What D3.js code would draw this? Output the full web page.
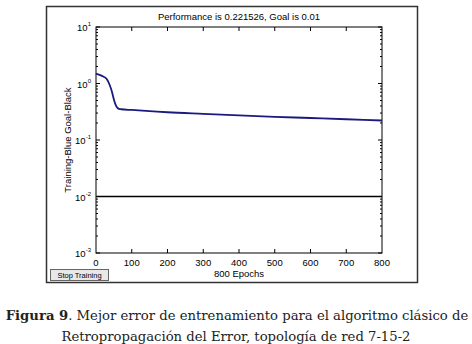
<!DOCTYPE html>
<html>
<head>
<meta charset="utf-8">
<script src="https://cdn.jsdelivr.net/npm/d3@7"></script>
<style>
  body { margin: 0; background: #fff; }
  svg { display: block; }
</style>
</head>
<body>
<div id="chart"></div>
<script>
"use strict";
let width = 472;
let height = 344;

// training curve (epochs, performance)
let epochs = [0, 10, 20, 30, 38, 45, 50, 55, 60, 65, 70, 100, 150, 200, 300, 400, 500, 600, 700, 800];
let perf = [1.5, 1.42, 1.33, 1.2, 0.95, 0.7, 0.52, 0.42, 0.37, 0.355, 0.35, 0.34, 0.325, 0.31, 0.29, 0.272, 0.257, 0.245, 0.233, 0.2215];
let goal = 0.01;
let xTicks = [0, 100, 200, 300, 400, 500, 600, 700, 800];
let yTicks = [1e-3, 1e-2, 1e-1, 1e0, 1e1];
let yExps = [-3, -2, -1, 0, 1];

let plot = {left: 96, right: 382, top: 27, bottom: 253};

let svg = d3.select("#chart").append("svg")
    .attr("width", width)
    .attr("height", height);

// outer window frame
svg.append("rect")
    .attr("x", 46.5).attr("y", 6.5)
    .attr("width", 371).attr("height", 276)
    .attr("fill", "#fff")
    .attr("stroke", "#333")
    .attr("stroke-width", 1.5);

let xScale = d3.scaleLinear()
    .domain([0, 800])
    .range([plot.left, plot.right]);

let yScale = d3.scaleLog()
    .domain([1e-3, 1e1])
    .range([plot.bottom, plot.top]);

// plot box
svg.append("rect")
    .attr("x", plot.left).attr("y", plot.top)
    .attr("width", plot.right - plot.left)
    .attr("height", plot.bottom - plot.top)
    .attr("fill", "none")
    .attr("stroke", "#000")
    .attr("stroke-width", 1);

// x ticks (bottom and top)
svg.append("g").selectAll("line")
    .data(xTicks.slice(1, -1))
    .enter().append("line")
    .attr("x1", d => xScale(d)).attr("x2", d => xScale(d))
    .attr("y1", plot.bottom).attr("y2", plot.bottom - 4)
    .attr("stroke", "#000");
svg.append("g").selectAll("line")
    .data(xTicks.slice(1, -1))
    .enter().append("line")
    .attr("x1", d => xScale(d)).attr("x2", d => xScale(d))
    .attr("y1", plot.top).attr("y2", plot.top + 4)
    .attr("stroke", "#000");

svg.append("g").selectAll("text")
    .data(xTicks)
    .enter().append("text")
    .attr("x", d => xScale(d))
    .attr("y", plot.bottom + 13)
    .attr("text-anchor", "middle")
    .style("font-family", "Liberation Sans, Arial, sans-serif")
    .style("font-size", "9.5px")
    .text(d => d);

// y minor + major ticks (log)
let minor = [];
yExps.slice(0, -1).forEach(function(e) {
    for (let m = 1; m < 10; m++) minor.push(m * Math.pow(10, e));
});
minor.push(10);
[plot.left, plot.right].forEach(function(x0, side) {
    let dir = side === 0 ? 1 : -1;
    svg.append("g").selectAll("line")
        .data(minor)
        .enter().append("line")
        .attr("x1", x0).attr("x2", d => x0 + dir * (yTicks.indexOf(d) >= 0 ? 4 : 2))
        .attr("y1", d => yScale(d)).attr("y2", d => yScale(d))
        .attr("stroke", "#000");
});

let yLab = svg.append("g").selectAll("text")
    .data(yExps)
    .enter().append("text")
    .attr("x", plot.left - 5)
    .attr("y", e => yScale(Math.pow(10, e)) + 4)
    .attr("text-anchor", "end")
    .style("font-family", "Liberation Sans, Arial, sans-serif")
    .style("font-size", "9.5px");
yLab.append("tspan").text("10");
yLab.append("tspan").attr("dy", -5).style("font-size", "6px").text(e => e);

// goal line
svg.append("line")
    .attr("x1", xScale(0)).attr("x2", xScale(800))
    .attr("y1", yScale(goal)).attr("y2", yScale(goal))
    .attr("stroke", "#000")
    .attr("stroke-width", 1.5);

// training curve
let line = d3.line()
    .x((d, i) => xScale(epochs[i]))
    .y(d => yScale(d))
    .curve(d3.curveMonotoneX);
svg.append("path")
    .datum(perf)
    .attr("d", line)
    .attr("fill", "none")
    .attr("stroke", "#1a1a80")
    .attr("stroke-width", 1.8);

// title and axis labels
svg.append("text")
    .attr("x", (plot.left + plot.right) / 2)
    .attr("y", 20)
    .attr("text-anchor", "middle")
    .style("font-family", "Liberation Sans, Arial, sans-serif")
    .style("font-size", "9.5px")
    .text("Performance is 0.221526, Goal is 0.01");

svg.append("text")
    .attr("x", (plot.left + plot.right) / 2)
    .attr("y", 277)
    .attr("text-anchor", "middle")
    .style("font-family", "Liberation Sans, Arial, sans-serif")
    .style("font-size", "9.5px")
    .text("800 Epochs");

svg.append("text")
    .attr("transform", "translate(71," + (plot.top + plot.bottom) / 2 + ") rotate(-90)")
    .attr("text-anchor", "middle")
    .style("font-family", "Liberation Sans, Arial, sans-serif")
    .style("font-size", "9.5px")
    .text("Training-Blue  Goal-Black");

// stop training button
svg.append("rect")
    .attr("x", 50.5).attr("y", 269.5)
    .attr("width", 58).attr("height", 11)
    .attr("fill", "#e8e8e8")
    .attr("stroke", "#666");
svg.append("text")
    .attr("x", 79.5).attr("y", 278)
    .attr("text-anchor", "middle")
    .style("font-family", "Liberation Sans, Arial, sans-serif")
    .style("font-size", "7.5px")
    .text("Stop Training");

// caption
let cap = svg.append("text")
    .attr("x", 237).attr("y", 320)
    .attr("text-anchor", "middle")
    .style("font-family", "DejaVu Serif, serif")
    .style("font-size", "13.2px")
    .attr("fill", "#222");
cap.append("tspan").style("font-weight", "bold").text("Figura 9");
cap.append("tspan").text(". Mejor error de entrenamiento para el algoritmo clásico de");

svg.append("text")
    .attr("x", 236).attr("y", 341)
    .attr("text-anchor", "middle")
    .style("font-family", "DejaVu Serif, serif")
    .style("font-size", "13.2px")
    .attr("fill", "#222")
    .text("Retropropagación del Error, topología de red 7-15-2");
</script>
</body>
</html>
